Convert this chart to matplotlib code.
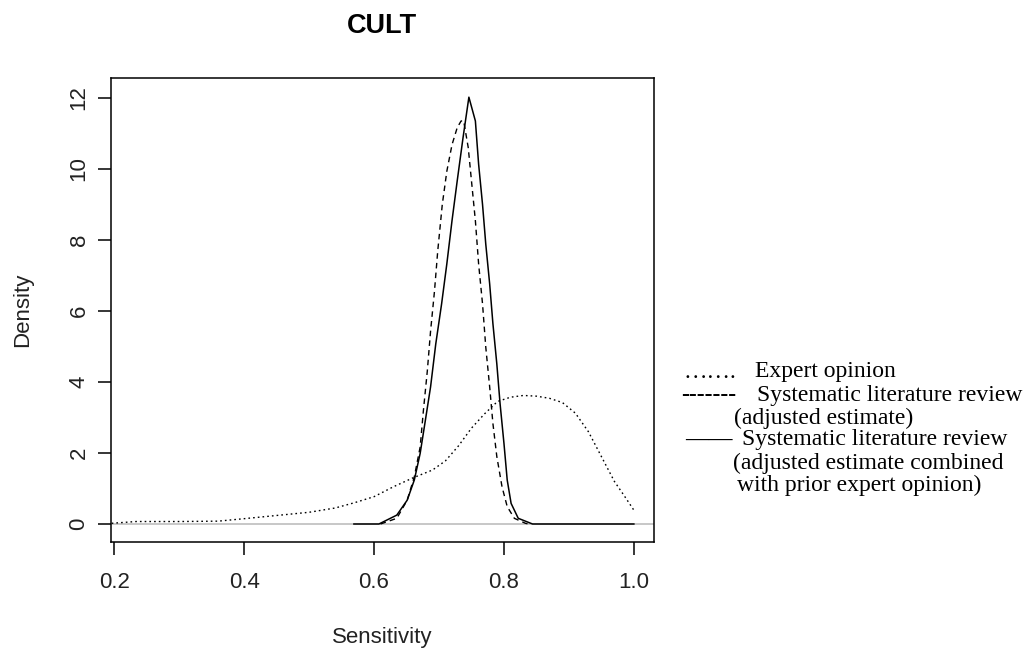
import matplotlib
matplotlib.use("Agg")
import matplotlib.pyplot as plt

# density curves for CULT sensitivity
expert_x = [0.196, 0.234, 0.26, 0.30, 0.36, 0.40, 0.45, 0.50, 0.54, 0.57, 0.60, 0.63,
            0.66, 0.69, 0.71, 0.73, 0.75, 0.77, 0.79, 0.81, 0.83, 0.85, 0.87, 0.89,
            0.91, 0.93, 0.95, 0.97, 0.985, 1.0]
expert_y = [0.02, 0.07, 0.07, 0.07, 0.08, 0.15, 0.24, 0.33, 0.45, 0.60, 0.77, 1.05,
            1.30, 1.52, 1.78, 2.20, 2.70, 3.10, 3.45, 3.57, 3.62, 3.60, 3.54, 3.42,
            3.12, 2.60, 1.90, 1.20, 0.80, 0.39]

slr_x = [0.610, 0.635, 0.651, 0.662, 0.671, 0.676, 0.682, 0.687, 0.693, 0.698, 0.705,
         0.712, 0.720, 0.728, 0.734, 0.738, 0.745, 0.750, 0.756, 0.761, 0.767, 0.772,
         0.778, 0.783, 0.789, 0.797, 0.805, 0.816, 0.833, 0.838]
slr_y = [0.0, 0.16, 0.67, 1.33, 2.17, 3.20, 4.31, 5.43, 6.55, 7.68, 8.99, 9.93, 10.68,
         11.16, 11.35, 11.35, 10.60, 9.66, 8.54, 7.32, 6.20, 4.98, 3.86, 2.83, 1.90,
         1.05, 0.49, 0.16, 0.02, 0.0]

comb_x = [0.569, 0.6075, 0.635, 0.651, 0.662, 0.671, 0.679, 0.687, 0.695, 0.704, 0.712,
          0.720, 0.728, 0.737, 0.746, 0.756, 0.761, 0.767, 0.772, 0.778, 0.783, 0.789,
          0.794, 0.800, 0.805, 0.811, 0.822, 0.844, 1.0]
comb_y = [0.0, 0.0, 0.25, 0.67, 1.24, 1.99, 2.92, 3.86, 5.07, 6.20, 7.32, 8.54, 9.66,
          10.88, 12.02, 11.35, 10.13, 9.00, 7.88, 6.76, 5.64, 4.51, 3.39, 2.27, 1.24,
          0.58, 0.16, 0.0, 0.0]

legend_lines = [
    ("\u2026\u2026.", "Expert opinion"),
    ("-------", "Systematic literature review"),
    ("", "(adjusted estimate)"),
    ("\u2014\u2014", "Systematic literature review"),
    ("", "(adjusted estimate combined"),
    ("", "with prior expert opinion)"),
]

W, H = 1026, 648
fig = plt.figure(figsize=(W / 100, H / 100), dpi=100)
ax = fig.add_axes([111 / W, 1 - 542 / H, (654 - 111) / W, (542 - 78) / H])

ax.axhline(0, color="#bebebe", lw=1.2)
ax.plot(expert_x, expert_y, color="black", lw=1.0, ls=(0, (1.2, 2.2)))
ax.plot(slr_x, slr_y, color="black", lw=1.0, ls=(0, (4, 3)))
ax.plot(comb_x, comb_y, color="black", lw=1.1)

ax.set_xlim(0.195, 1.031)
ax.set_ylim(-0.507, 12.56)
ax.set_xticks([0.2, 0.4, 0.6, 0.8, 1.0])
ax.set_xticklabels(["0.2", "0.4", "0.6", "0.8", "1.0"])
ax.set_yticks([0, 2, 4, 6, 8, 10, 12])

font = "Liberation Sans"
for s in ax.spines.values():
    s.set_linewidth(1.1)
ax.tick_params(length=9.4, width=1.1, labelsize=16, color="black")
ax.tick_params(axis="x", pad=12)
ax.tick_params(axis="y", pad=6)
for lab in ax.get_xticklabels():
    lab.set_fontfamily(font)
    lab.set_color("#222222")
for lab in ax.get_yticklabels():
    lab.set_fontfamily(font)
    lab.set_rotation(90)
    lab.set_va("center")
    lab.set_color("#222222")

fig.text(382 / W, 1 - 638 / H, "Sensitivity", ha="center", va="center",
         fontsize=16, family=font, color="#222222")
fig.text(23 / W, 1 - 310 / H, "Density", ha="center", va="center", rotation=90,
         fontsize=16, family=font, color="#222222")
fig.text(382 / W, 1 - 26 / H, "CULT", ha="center", va="center",
         fontsize=19.5, family=font, weight="bold")

# legend written as plain text lines on the right
marker_x = [683, 681, None, 685, None, None]
marker_weight = ["normal", "bold", None, "bold", None, None]
label_x = [755, 757, 734, 742, 733, 737]
row_y = [372, 395, 418, 440, 463, 485]
for (mark, label), mx, mw, lx, y in zip(legend_lines, marker_x, marker_weight, label_x, row_y):
    if mark:
        fig.text(mx / W, 1 - y / H, mark, ha="left", va="center",
                 fontsize=17, family="Liberation Serif", weight=mw)
    fig.text(lx / W, 1 - y / H, label, ha="left", va="center",
             fontsize=17, family="Liberation Serif")

fig.savefig("out.png", dpi=100)
